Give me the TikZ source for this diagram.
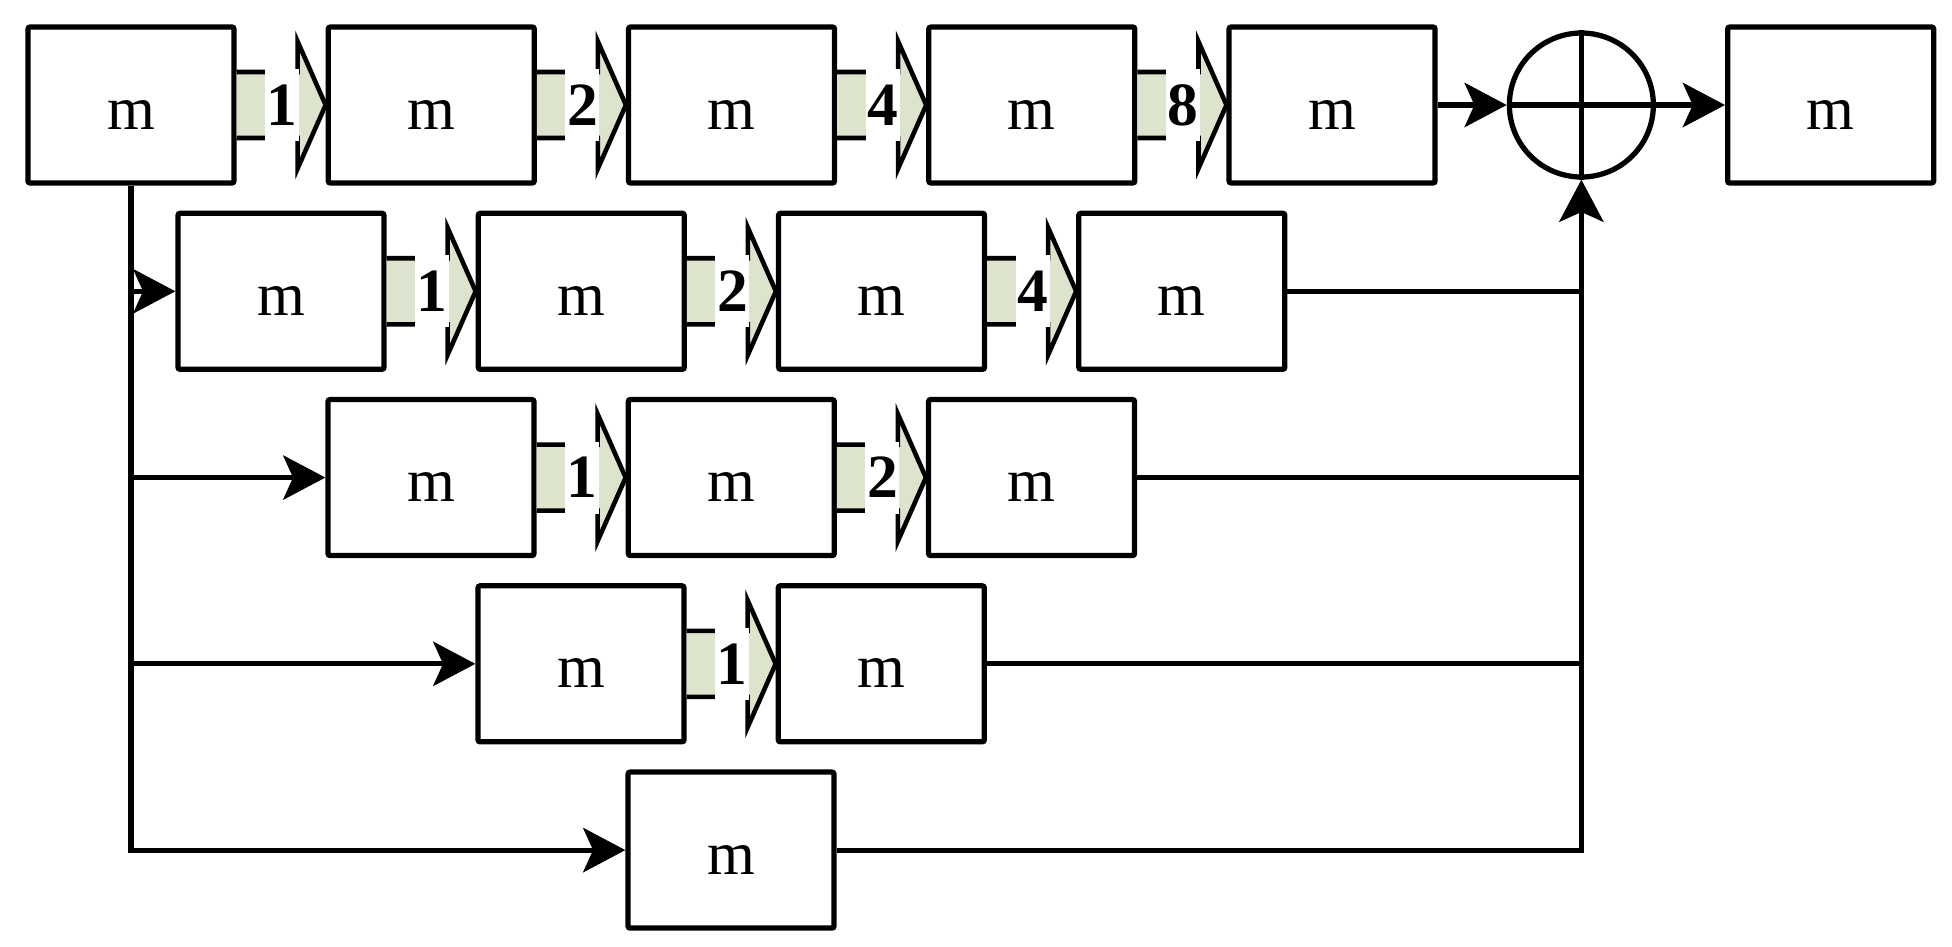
\documentclass[tikz,border=0pt]{standalone}
\usepackage{fontspec}
\setmainfont{Liberation Serif}
\usetikzlibrary{arrows.meta,positioning,calc}

\definecolor{linkfill}{HTML}{DDE4CE}

% block arrow between two boxes, with its step number
\newcommand{\steplink}[3]{%
    \draw[link] (#1.east) ++(0,0.33) -- ++(0.61,0) -- ++(0,0.305) -- (#2.west)
        -- ($(#1.east)+(0.61,-0.635)$) -- ++(0,0.305) -- ++(-0.61,0);
    \node[num] at ($(#1.east)+(0.455,0)$) {#3};
}

\begin{document}
\begin{tikzpicture}[
    node distance=0.25cm and 0.89cm,
    blk/.style={rectangle, draw, line width=1.5pt, rounded corners=0.6pt, minimum width=2.06cm, minimum height=1.56cm, inner sep=0pt, text height=0.48cm, text depth=0pt, font=\fontsize{17.5}{20}\selectfont},
    sum/.style={circle, draw, line width=1.5pt, minimum size=1.44cm, inner sep=0pt},
    link/.style={draw, fill=linkfill, line width=1.3pt, line join=miter},
    num/.style={fill=white, inner sep=0pt, minimum width=0.34cm, minimum height=0.72cm, font=\fontsize{17.5}{20}\selectfont\bfseries},
    wire/.style={line width=1.45pt},
    arrow/.style={wire, -{Stealth[length=12pt, width=12.6pt, inset=2.8pt]}}
]
    \useasboundingbox (0,0) rectangle (19.52,-9.46);

    % Row 1
    \node[blk] (a1) at (1.31,-1.05) {m};
    \node[blk, right=of a1] (a2) {m};
    \node[blk, right=of a2] (a3) {m};
    \node[blk, right=of a3] (a4) {m};
    \node[blk, right=of a4] (a5) {m};
    \node[sum, right=0.69cm of a5] (add) {};
    \node[blk, right=0.69cm of add] (out) {m};

    % Row 2
    \node[blk, below=of a1, xshift=1.5cm] (b1) {m};
    \node[blk, right=of b1] (b2) {m};
    \node[blk, right=of b2] (b3) {m};
    \node[blk, right=of b3] (b4) {m};

    % Row 3
    \node[blk, below=of b1, xshift=1.5cm] (c1) {m};
    \node[blk, right=of c1] (c2) {m};
    \node[blk, right=of c2] (c3) {m};

    % Row 4
    \node[blk, below=of c1, xshift=1.5cm] (d1) {m};
    \node[blk, right=of d1] (d2) {m};

    % Row 5
    \node[blk, below=of d1, xshift=1.5cm] (e1) {m};

    % Step links
    \steplink{a1}{a2}{1}
    \steplink{a2}{a3}{2}
    \steplink{a3}{a4}{4}
    \steplink{a4}{a5}{8}
    \steplink{b1}{b2}{1}
    \steplink{b2}{b3}{2}
    \steplink{b3}{b4}{4}
    \steplink{c1}{c2}{1}
    \steplink{c2}{c3}{2}
    \steplink{d1}{d2}{1}

    % Adder cross
    \draw[wire] (add.north) -- (add.south);
    \draw[wire] (add.west) -- (add.east);

    % Left bus
    \draw[arrow] (a1.south) |- (e1.west);
    \draw[arrow] (a1.south |- b1.west) -- (b1.west);
    \draw[arrow] (a1.south |- c1.west) -- (c1.west);
    \draw[arrow] (a1.south |- d1.west) -- (d1.west);

    % Right bus
    \draw[arrow] (e1.east) -| (add.south);
    \draw[wire] (b4.east) -- (b4.east -| add.south);
    \draw[wire] (c3.east) -- (c3.east -| add.south);
    \draw[wire] (d2.east) -- (d2.east -| add.south);
    \draw[arrow] (a5) -- (add);
    \draw[arrow] (add) -- (out);
\end{tikzpicture}
\end{document}
